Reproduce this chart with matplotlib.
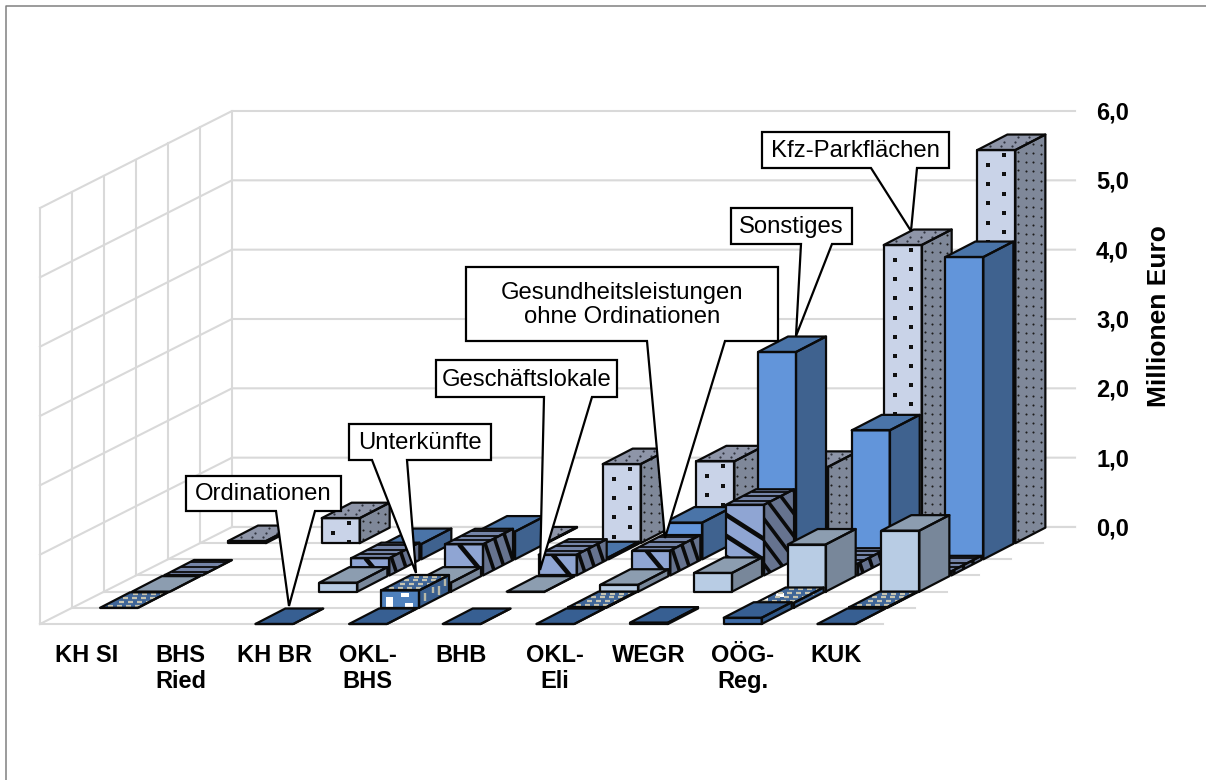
import numpy as np
from matplotlib import pyplot as plt
from matplotlib.patches import Polygon

categories = ['KH SI', 'BHS\nRied', 'KH BR', 'OKL-\nBHS', 'BHB', 'OKL-\nEli', 'WEGR', 'OÖG-\nReg.', 'KUK']
value_ticks = [0, 1, 2, 3, 4, 5, 6]
value_labels = ['0,0', '1,0', '2,0', '3,0', '4,0', '5,0', '6,0']
nan = float('nan')

# rows from front to back
ordinationen = [nan, nan, 0.0, 0.0, 0.0, 0.0, 0.02, 0.09, 0.0]
unterkuenfte = [0.0, nan, nan, 0.25, nan, 0.01, nan, 0.07, 0.01]
geschaeftslokale = [0.0, nan, 0.13, 0.13, 0.0, 0.10, 0.27, 0.68, 0.88]
gesundheit = [0.0, nan, 0.25, 0.45, 0.30, 0.36, 1.02, 0.17, 0.06]
sonstiges = [nan, nan, 0.22, 0.40, 0.03, 0.53, 2.99, 1.86, 4.36]
kfz = [0.03, 0.36, nan, 0.01, 1.14, 1.18, 1.10, 4.30, 5.67]
rows = [ordinationen, unterkuenfte, geschaeftslokale, gesundheit, sonstiges, kfz]

# front, side, top colours per row
row_colors = [('#3f6ca8', '#2f5787', '#375f92'),
              ('#4f81bd', '#3a5f8f', '#3f6597'),
              ('#b8cce4', '#78879a', '#8c9db0'),
              ('#8fa5d3', '#66738f', '#7484a8'),
              ('#6295da', '#3f628f', '#4a74a8'),
              ('#c9d3e8', '#7f8899', '#8e95a8')]

# oblique projection of the chart, in pixels
X0, Y0 = 40, 624
CELL_W = 93.67
ROW_DX, ROW_DY = 32, -16.17
UNIT = 69.33
BAR_W, BAR_DX, BAR_DY = 38, 30, -15.5
BAR_OFF = 28

GRID = '#d9d9d9'
EDGE = '#0a0a0a'
FONT = 'Liberation Sans'


def project(cat, row, val=0.0):
    return (X0 + cat * CELL_W + row * ROW_DX, Y0 + row * ROW_DY - val * UNIT)


def clipped_lines(ax, poly, lines, color='#0a0a0a', lw=3.3, z=0):
    for (xa, ya), (xb, yb) in lines:
        l, = ax.plot([xa, xb], [ya, yb], color=color, lw=lw, zorder=z, solid_capstyle='butt')
        l.set_clip_path(poly)


def small_marks(ax, poly, xs, ys, marker, size, color, z, mew=0):
    m, = ax.plot(xs, ys, ls='none', marker=marker, ms=size, color=color, mew=mew, zorder=z)
    m.set_clip_path(poly)


def texture(ax, r, faces, x, y, h, z):
    front, side, top = faces
    if r == 5:
        # dashes on the front, fine dots elsewhere
        xs, ys = [], []
        for k, v in enumerate(np.arange(5, h + 1, 9.65)):
            xs.append(x + (11 if k % 2 else 27))
            ys.append(y - h + v)
        small_marks(ax, front, xs, ys, '_', 3.4, '#111111', z, mew=1.6)
        sx, sy = [], []
        for a, s in enumerate(np.arange(0.1, 1, 0.25)):
            for v in np.arange(3 + 4 * (a % 2), h, 9):
                sx.append(x + BAR_W + s * BAR_DX)
                sy.append(y - v + s * BAR_DY)
        small_marks(ax, side, sx, sy, 'o', 1.5, '#1c1c1c', z)
        tx, ty = [], []
        for a, s in enumerate([0.25, 0.55, 0.85]):
            for u in np.arange(5 + 5 * a, BAR_W, 11):
                tx.append(x + u + s * BAR_DX)
                ty.append(y - h + s * BAR_DY)
        small_marks(ax, top, tx, ty, 'o', 1.6, '#30343f', z)
    elif r == 3:
        # diagonal stripes, stretched on the short bars
        lines = []
        if h > 50:
            for c in np.arange(10, h + 10, 21):
                lines.append(((x - 2, y - h + c - 1.3), (x + BAR_W + 2, y - h + c + 0.64 * (BAR_W + 2))))
        else:
            lines.append(((x + 14, y - h), (x + 14 + h / 1.2, y)))
        clipped_lines(ax, front, lines, z=z)
        lines = []
        if h > 50:
            for c in np.arange(-h - 40, BAR_DX + 20, 17):
                xa = x + BAR_W + c
                lines.append(((xa, y - h - 20), (xa + (h + 40) / 1.33, y + 20)))
        else:
            for c in np.arange(2, BAR_DX + 4, 9.5):
                xa = x + BAR_W + c
                ya = y + BAR_DY * c / BAR_DX
                lines.append(((xa, ya - h), (xa + h / 3, ya)))
        clipped_lines(ax, side, lines, lw=2.6, z=z)
        lines = []
        for s in [0.25, 0.55, 0.85]:
            lines.append(((x + s * BAR_DX, y - h + s * BAR_DY), (x + BAR_W + s * BAR_DX, y - h + s * BAR_DY)))
        clipped_lines(ax, top, lines, lw=1.3, z=z)
    elif r == 1:
        # confetti: white blocks on the front, tan ones on side and top
        if h > 3:
            for u, v, bw, bh in [(5, 1, 7, 10), (20, 11, 8, 4), (24, 0, 8, 5)]:
                ax.fill([x + u, x + u + bw, x + u + bw, x + u], [y - v, y - v, y - v - bh, y - v - bh],
                        color='white', lw=0, zorder=z)
            lines = []
            for s, v, vh in [(0.2, 4, 8), (0.45, 8, 6), (0.65, 3, 9), (0.85, 9, 7)]:
                xs_ = x + BAR_W + s * BAR_DX
                ys_ = y + s * BAR_DY
                lines.append(((xs_, ys_ - v), (xs_, ys_ - v - vh)))
            clipped_lines(ax, side, lines, color='#b9b9a8', lw=1.7, z=z)
        lines = []
        for a, s in enumerate([0.15, 0.4, 0.65, 0.87]):
            for u in np.arange(3 + 4 * (a % 2), BAR_W, 9):
                xa = x + u + s * BAR_DX
                ya = y - h + s * BAR_DY
                lines.append(((xa, ya), (xa + 5, ya)))
        clipped_lines(ax, top, lines, color='#c6c4b2', lw=1.6, z=z)


def draw_bar(ax, cat, r, val, z):
    x, y = project(cat, r)
    x += BAR_OFF
    h = val * UNIT
    c_front, c_side, c_top = row_colors[r]
    pts_front = [(x, y), (x + BAR_W, y), (x + BAR_W, y - h), (x, y - h)]
    pts_side = [(x + BAR_W, y), (x + BAR_W + BAR_DX, y + BAR_DY),
                (x + BAR_W + BAR_DX, y + BAR_DY - h), (x + BAR_W, y - h)]
    pts_top = [(x, y - h), (x + BAR_W, y - h),
               (x + BAR_W + BAR_DX, y + BAR_DY - h), (x + BAR_DX, y + BAR_DY - h)]
    faces = []
    for pts, col in [(pts_front, c_front), (pts_side, c_side), (pts_top, c_top)]:
        p = Polygon(pts, closed=True, facecolor=col, edgecolor='none', zorder=z)
        ax.add_patch(p)
        faces.append(p)
    texture(ax, r, faces, x, y, h, z)
    for pts in (pts_front, pts_side, pts_top):
        ax.add_patch(Polygon(pts, closed=True, fill=False, edgecolor=EDGE, lw=1.6, joinstyle='round', zorder=z))


def callout(ax, box, base, tip, lines, z):
    x1, y1, x2, y2 = box
    pts = [(x1, y1), (x2, y1), (x2, y2), (base[1], y2), tip, (base[0], y2), (x1, y2)]
    ax.add_patch(Polygon(pts, closed=True, facecolor='white', edgecolor='black', lw=1.6, zorder=z))
    ax.text((x1 + x2) / 2, (y1 + y2) / 2 + 1, lines, ha='center', va='center', family=FONT,
            fontsize=17.2, color='black', zorder=z + 1, linespacing=1.15)


fig = plt.figure(figsize=(12.06, 7.8), dpi=100)
ax = fig.add_axes([0, 0, 1, 1])
ax.set_xlim(0, 1206)
ax.set_ylim(780, 0)
ax.axis('off')

# outer frame, left and top only
ax.plot([6, 6, 1206], [780, 6, 6], color='#808080', lw=1.1, zorder=1)

n_cat = len(categories)
n_row = len(rows)

# walls and floor
for v in value_ticks:
    a = project(0, 0, v)
    b = project(0, n_row, v)
    c = project(n_cat, n_row, v)
    ax.plot([a[0], b[0], c[0]], [a[1], b[1], c[1]], color=GRID, lw=1.5, zorder=2)
for r in range(n_row + 1):
    a = project(0, r, 0)
    b = project(0, r, value_ticks[-1])
    ax.plot([a[0], b[0]], [a[1], b[1]], color=GRID, lw=1.5, zorder=2)
    c = project(n_cat, r, 0)
    ax.plot([a[0], c[0]], [a[1], c[1]], color=GRID, lw=1.5, zorder=2)

# bars, back row first
z = 10
for r in range(n_row - 1, -1, -1):
    for cat in range(n_cat):
        val = rows[r][cat]
        if not np.isnan(val):
            draw_bar(ax, cat, r, val, z)
    z += 1

# category labels
for i, name in enumerate(categories):
    x, _ = project(i + 0.5, 0)
    ax.text(x, 644, name, ha='center', va='top', family=FONT, fontweight='bold', fontsize=17,
            linespacing=1.18, zorder=40)

# value labels
for v, lab in zip(value_ticks, value_labels):
    _, y = project(n_cat, n_row, v)
    ax.text(1096, y + 2, lab, ha='left', va='center', family=FONT, fontweight='bold', fontsize=17, zorder=40)
ax.text(1159, 316, 'Millionen Euro', rotation=90, ha='center', va='center', family=FONT,
        fontweight='bold', fontsize=19, zorder=40)

# series callouts
callout(ax, (186, 476, 341, 511), (276, 315), (289, 606), 'Ordinationen', 50)
callout(ax, (349, 424, 491, 460), (372, 407), (416, 573), 'Unterkünfte', 50)
callout(ax, (436, 360, 617, 397), (544, 592), (540, 570), 'Geschäftslokale', 50)
callout(ax, (466, 267, 778, 341), (647, 725), (665, 538), 'Gesundheitsleistungen\nohne Ordinationen', 50)
callout(ax, (731, 208, 852, 244), (801, 832), (796, 336), 'Sonstiges', 50)
callout(ax, (762, 132, 949, 168), (871, 917), (911, 231), 'Kfz-Parkflächen', 50)

fig.savefig('out.png', dpi=100)
